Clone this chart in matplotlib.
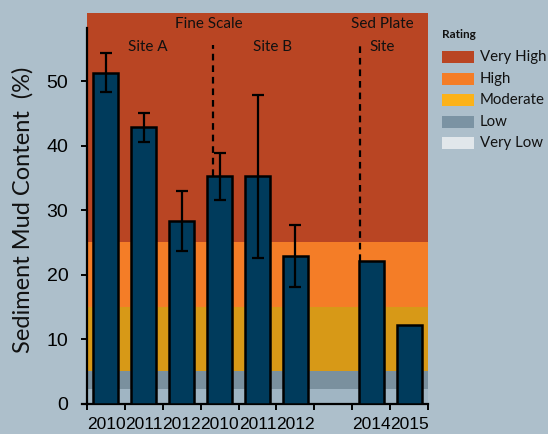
import matplotlib
matplotlib.use("Agg")
import matplotlib.pyplot as plt
from matplotlib.patches import Rectangle

# ---- data ----
year_labels = ["2010", "2011", "2012", "2010", "2011", "2012", "2014", "2015"]
bar_pos = [0, 1, 2, 3, 4, 5, 7, 8]
mud_values = [51.3, 42.8, 28.3, 35.2, 35.2, 22.8, 22.1, 12.1]
mud_errors = [3.0, 2.2, 4.6, 3.6, 12.7, 4.8, 0, 0]
has_error = [True, True, True, True, True, True, False, False]

rating_labels = ["Very High", "High", "Moderate", "Low", "Very Low"]
band_lower = [25, 15, 5, 2.2, 0]
band_upper = [60.5, 25, 15, 5, 2.2]
band_colors = ["#B94523", "#F47D27", "#D79917", "#7A909E", "#A0B5C3"]
legend_colors = ["#B94523", "#F47D27", "#FBB21A", "#7B93A3", "#E1E7EB"]

divider_x = [2.82, 6.70]
divider_bottom = [35.2, 22.1]
divider_top = 55.6

group_texts = ["Fine Scale", "Site A", "Site B", "Sed Plate", "Site"]
group_x = [2.71, 1.1, 4.39, 7.29, 7.29]
group_y = [58.8, 55.3, 55.3, 58.8, 55.3]

FIG_BG = "#ADBFCB"
BAR_COLOR = "#003B5C"
W, H = 548, 434

fig = plt.figure(figsize=(W / 100, H / 100), dpi=100, facecolor=FIG_BG)
ax = fig.add_axes([87 / W, 1 - 403.5 / H, (428 - 87) / W, (403.5 - 13.3) / H])
ax.set_facecolor(FIG_BG)

ax.set_xlim(-0.5, 8.5)
ax.set_ylim(0, 60.5)

for lo, hi, c in zip(band_lower, band_upper, band_colors):
    ax.axhspan(lo, hi, color=c, lw=0, zorder=0)

ax.bar(bar_pos, mud_values, width=0.66, color=BAR_COLOR, edgecolor="black",
       linewidth=1.8, zorder=3)
ex = [p for p, h in zip(bar_pos, has_error) if h]
ey = [v for v, h in zip(mud_values, has_error) if h]
ee = [e for e, h in zip(mud_errors, has_error) if h]
ax.errorbar(ex, ey, yerr=ee, fmt="none", ecolor="black", elinewidth=1.6,
            capsize=4.5, capthick=1.6, zorder=4)

for dx, db in zip(divider_x, divider_bottom):
    ax.plot([dx, dx], [db, divider_top], color="black", lw=1.6,
            dashes=(3, 2.2), zorder=2)

ann_font = ["Lato", "DejaVu Sans"]
for t, x, y in zip(group_texts, group_x, group_y):
    ax.text(x, y, t, ha="center", va="center", fontsize=11, family=ann_font,
            color="#111111", zorder=5)

# spines
for s in ["top", "right"]:
    ax.spines[s].set_visible(False)
ax.spines["left"].set_bounds(0, 58.2)
ax.spines["left"].set_linewidth(1.6)
ax.spines["bottom"].set_linewidth(1.6)
ax.plot([-0.64, -0.5], [0, 0], color="black", lw=1.6, clip_on=False, zorder=5)

tick_font = ["Liberation Sans", "DejaVu Sans"]
ax.set_yticks([0, 10, 20, 30, 40, 50])
ax.tick_params(axis="y", length=4.5, width=1.4, pad=9, labelsize=14)
for lab in ax.get_yticklabels():
    lab.set_family(tick_font)

ax.set_xticks(bar_pos)
ax.set_xticklabels(year_labels)
ax.tick_params(axis="x", which="major", length=0, pad=9.5, labelsize=12.5)
for lab in ax.get_xticklabels():
    lab.set_family(tick_font)
ax.set_xticks([i - 0.5 for i in range(10)], minor=True)
ax.tick_params(axis="x", which="minor", length=4.5, width=1.4)

fig.text(23 / W, 1 - 209.5 / H, "Sediment Mud Content  (%)", rotation=90,
         ha="center", va="center", fontsize=17, family=ann_font, color="#111111")

# legend (manual)
fig.text(442 / W, 1 - 34 / H, "Rating", fontsize=8.5, fontweight="bold",
         family=ann_font, ha="left", va="center", color="#111111")
row_y = [56.7, 79, 100.3, 121.7, 143.3]
for lab, c, yy in zip(rating_labels, legend_colors, row_y):
    fig.patches.append(Rectangle((442 / W, 1 - (yy + 6) / H), 32 / W, 12 / H,
                                 transform=fig.transFigure, facecolor=c,
                                 edgecolor="none"))
    fig.text(480 / W, 1 - yy / H, lab, fontsize=10.8, family=ann_font,
             ha="left", va="center", color="#111111")

fig.savefig("out.png", dpi=100, facecolor=FIG_BG)
